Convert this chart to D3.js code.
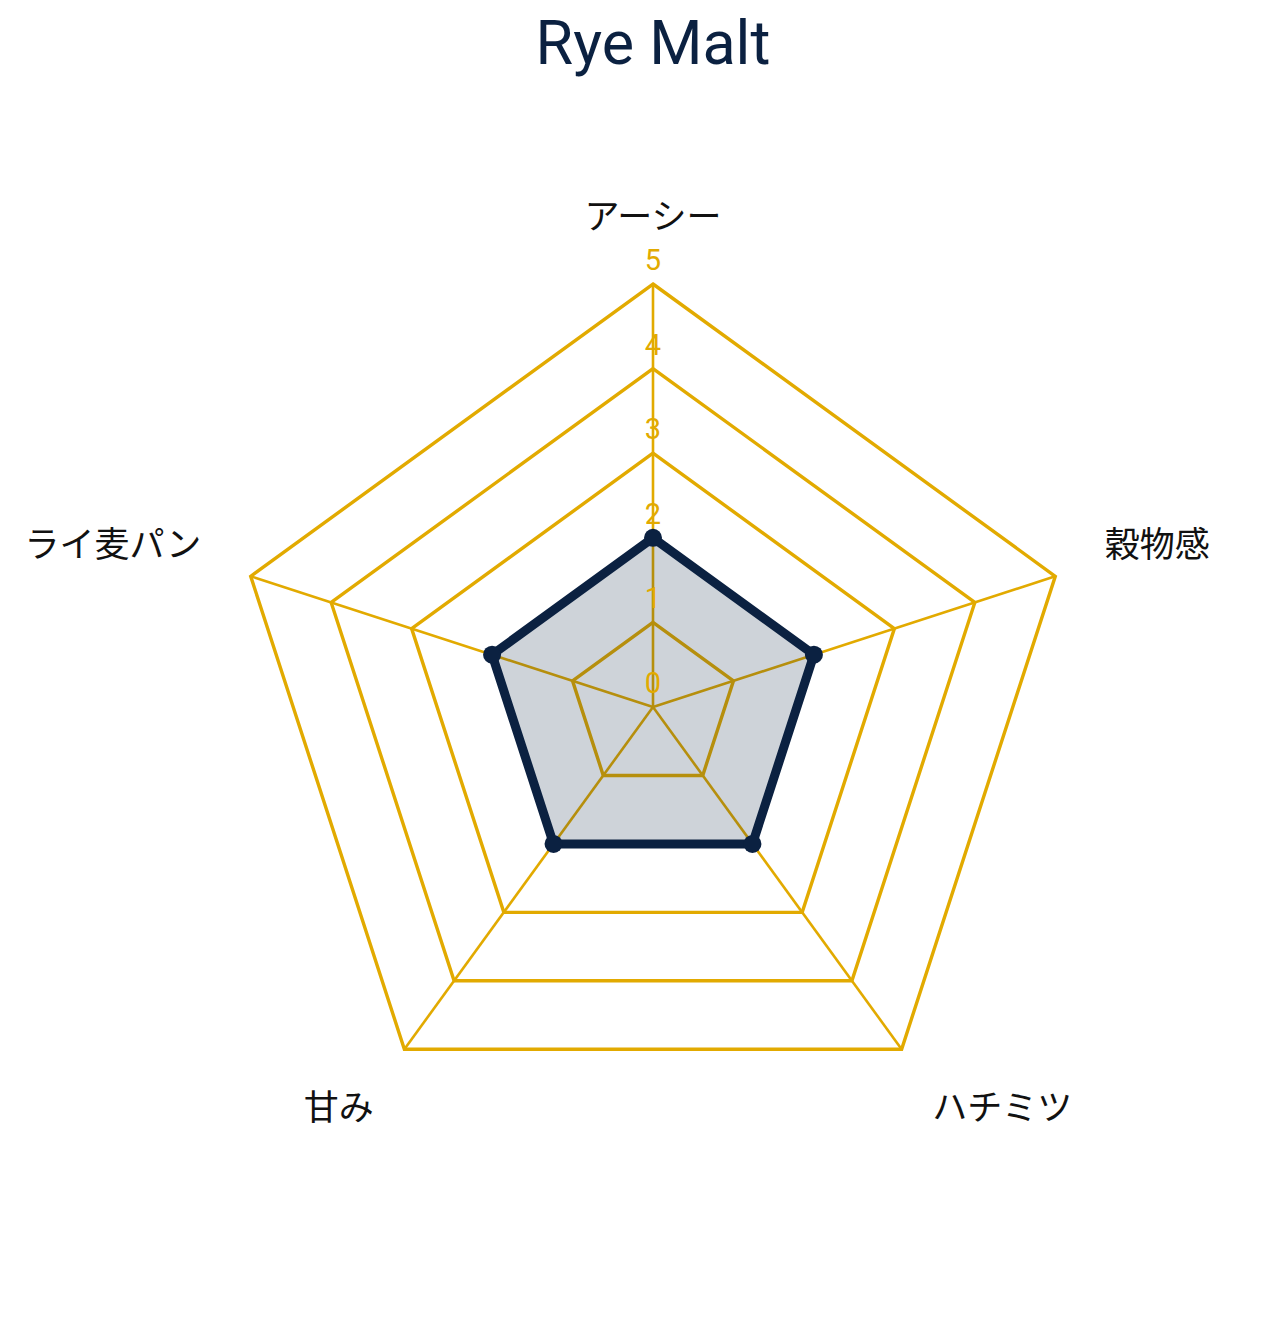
<!DOCTYPE html>
<html><head><meta charset="utf-8">
<script src="https://cdn.jsdelivr.net/npm/d3@7"></script>
<style>body{margin:0;background:#fff}</style>
</head><body>
<svg id="c" width="1284" height="1323"></svg>
<script>
const title = "Rye Malt";
const categories = ["アーシー","穀物感","ハチミツ","甘み","ライ麦パン"];
const values = [2,2,2,2,2];
const tickValues = [0,1,2,3,4,5];

const W=1284,H=1323, cx=653, cy=707, R=423;
const gridColor="#e2aa00", navy="#0b2141";
const svg=d3.select("#c");
const r=d3.scaleLinear().domain([0,5]).range([0,R]);
const ang=d3.scalePoint().domain(categories).range([0,2*Math.PI*(categories.length-1)/categories.length]);
const pt=(c,v)=>{const a=ang(c);return [cx+Math.sin(a)*r(v), cy-Math.cos(a)*r(v)];};

svg.append("text").attr("x",cx).attr("y",64).attr("text-anchor","middle")
  .attr("font-family","Roboto, 'Open Sans', sans-serif").attr("font-size",61).attr("fill",navy).text(title);

const g=svg.append("g");
categories.forEach(c=>{const p=pt(c,5);
  g.append("line").attr("x1",cx).attr("y1",cy).attr("x2",p[0]).attr("y2",p[1])
   .attr("stroke",gridColor).attr("stroke-width",2.6);});
tickValues.filter(t=>t>0).forEach(t=>{
  g.append("polygon").attr("points",categories.map(c=>pt(c,t).join(",")).join(" "))
   .attr("fill","none").attr("stroke",gridColor).attr("stroke-width",3.4);});
const line=d3.line().curve(d3.curveLinearClosed);
const pts=categories.map((c,i)=>pt(c,values[i]));
g.append("path").attr("d",line(pts)).attr("fill",navy).attr("fill-opacity",0.2)
  .attr("stroke",navy).attr("stroke-width",9).attr("stroke-linejoin","miter");
pts.forEach(p=>g.append("circle").attr("cx",p[0]).attr("cy",p[1]).attr("r",9).attr("fill",navy));
tickValues.forEach(t=>{
  g.append("text").attr("x",cx).attr("y",cy-r(t)-14).attr("text-anchor","middle")
   .attr("font-family","Roboto, sans-serif").attr("font-size",29).attr("fill",gridColor).text(t);});
categories.forEach(c=>{
  const a=ang(c); const p=[cx+Math.sin(a)*(R+52), cy-Math.cos(a)*(R+52)];
  const s=Math.sin(a), co=Math.cos(a);
  const anchor=Math.abs(s)<0.05?"middle":(s>0?"start":"end");
  const y = co>=0 ? p[1]-3 : p[1]+29;
  g.append("text").attr("x",p[0]).attr("y",y).attr("text-anchor",anchor)
   .attr("font-family","'Noto Sans CJK JP', sans-serif").attr("font-size",35).attr("fill","#111").text(c);
});
</script>
</body></html>
